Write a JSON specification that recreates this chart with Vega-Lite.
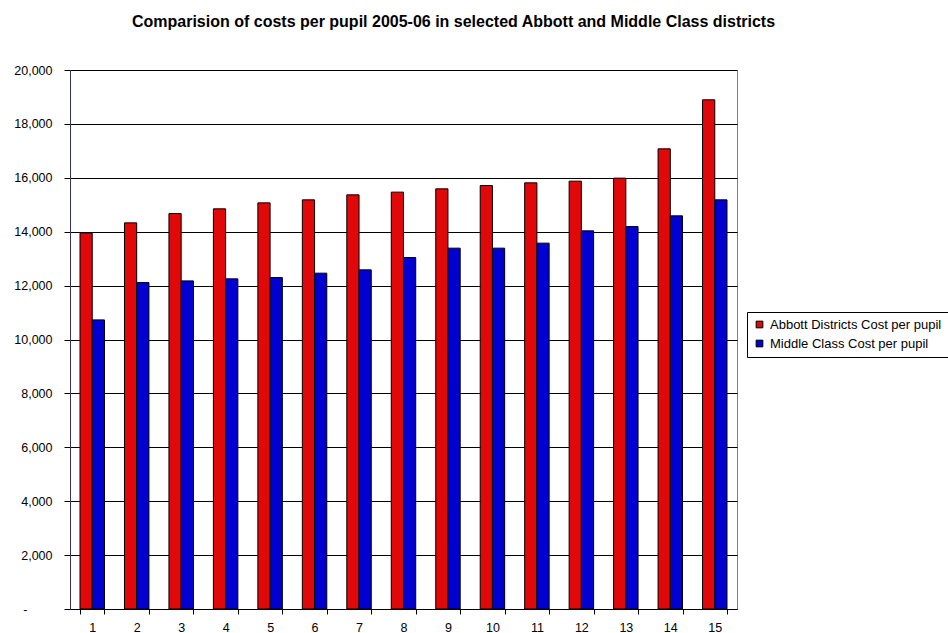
{
  "$schema": "https://vega.github.io/schema/vega-lite/v6.json",
  "autosize": "none",
  "padding": {"left": 70, "top": 70, "right": 211, "bottom": 24},
  "width": 667,
  "height": 539,
  "background": "white",
  "title": {
    "text": "Comparision of costs per pupil 2005-06 in selected Abbott and Middle Class districts",
    "font": "Liberation Sans",
    "fontSize": 16,
    "fontWeight": "bold",
    "color": "black",
    "anchor": "middle",
    "dx": 50,
    "offset": 34
  },
  "data": {
    "values": [
      {"district": 1, "series": "Abbott Districts Cost per pupil", "cost": 13946},
      {"district": 1, "series": "Middle Class Cost per pupil", "cost": 10728},
      {"district": 2, "series": "Abbott Districts Cost per pupil", "cost": 14328},
      {"district": 2, "series": "Middle Class Cost per pupil", "cost": 12112},
      {"district": 3, "series": "Abbott Districts Cost per pupil", "cost": 14673},
      {"district": 3, "series": "Middle Class Cost per pupil", "cost": 12175},
      {"district": 4, "series": "Abbott Districts Cost per pupil", "cost": 14848},
      {"district": 4, "series": "Middle Class Cost per pupil", "cost": 12250},
      {"district": 5, "series": "Abbott Districts Cost per pupil", "cost": 15070},
      {"district": 5, "series": "Middle Class Cost per pupil", "cost": 12298},
      {"district": 6, "series": "Abbott Districts Cost per pupil", "cost": 15182},
      {"district": 6, "series": "Middle Class Cost per pupil", "cost": 12461},
      {"district": 7, "series": "Abbott Districts Cost per pupil", "cost": 15367},
      {"district": 7, "series": "Middle Class Cost per pupil", "cost": 12584},
      {"district": 8, "series": "Abbott Districts Cost per pupil", "cost": 15468},
      {"district": 8, "series": "Middle Class Cost per pupil", "cost": 13040},
      {"district": 9, "series": "Abbott Districts Cost per pupil", "cost": 15590},
      {"district": 9, "series": "Middle Class Cost per pupil", "cost": 13389},
      {"district": 10, "series": "Abbott Districts Cost per pupil", "cost": 15713},
      {"district": 10, "series": "Middle Class Cost per pupil", "cost": 13389},
      {"district": 11, "series": "Abbott Districts Cost per pupil", "cost": 15813},
      {"district": 11, "series": "Middle Class Cost per pupil", "cost": 13575},
      {"district": 12, "series": "Abbott Districts Cost per pupil", "cost": 15876},
      {"district": 12, "series": "Middle Class Cost per pupil", "cost": 14031},
      {"district": 13, "series": "Abbott Districts Cost per pupil", "cost": 15987},
      {"district": 13, "series": "Middle Class Cost per pupil", "cost": 14190},
      {"district": 14, "series": "Abbott Districts Cost per pupil", "cost": 17075},
      {"district": 14, "series": "Middle Class Cost per pupil", "cost": 14588},
      {"district": 15, "series": "Abbott Districts Cost per pupil", "cost": 18894},
      {"district": 15, "series": "Middle Class Cost per pupil", "cost": 15182}
    ]
  },
  "mark": {"type": "bar", "stroke": "black", "strokeWidth": 1},
  "encoding": {
    "x": {
      "field": "district",
      "type": "ordinal",
      "scale": {"paddingInner": 0.45, "paddingOuter": 0.225},
      "axis": {
        "title": null,
        "labelAngle": 0,
        "tickBand": "extent",
        "grid": false,
        "domainColor": "black",
        "tickColor": "black",
        "tickSize": 5,
        "labelPadding": 7,
        "labelFont": "Liberation Sans",
        "labelFontSize": 12.5,
        "labelColor": "black"
      }
    },
    "xOffset": {"field": "series", "type": "nominal", "scale": {"paddingInner": 0, "paddingOuter": 0}},
    "y": {
      "field": "cost",
      "type": "quantitative",
      "scale": {"domain": [0, 20000], "nice": false},
      "axis": {
        "title": null,
        "values": [0, 2000, 4000, 6000, 8000, 10000, 12000, 14000, 16000, 18000, 20000],
        "labelExpr": "datum.value == 0 ? '-\u2003\u2003\u200b' : format(datum.value, ',')",
        "grid": true,
        "gridColor": "black",
        "gridWidth": 1,
        "domainColor": "#333366",
        "tickColor": "black",
        "tickSize": 6,
        "labelPadding": 12,
        "labelFont": "Liberation Sans",
        "labelFontSize": 12.5,
        "labelColor": "black"
      }
    },
    "color": {
      "field": "series",
      "type": "nominal",
      "scale": {
        "domain": ["Abbott Districts Cost per pupil", "Middle Class Cost per pupil"],
        "range": ["#E00808", "#0000D0"]
      },
      "legend": {
        "title": null,
        "orient": "none",
        "legendX": 677,
        "legendY": 242,
        "strokeColor": "black",
        "padding": 6,
        "rowPadding": 5,
        "symbolType": "square",
        "symbolSize": 45,
        "symbolStrokeColor": "black",
        "symbolStrokeWidth": 1,
        "labelFont": "Liberation Sans",
        "labelFontSize": 13,
        "labelColor": "black",
        "labelLimit": 300
      }
    }
  },
  "config": {
    "view": {"stroke": "#808080", "strokeWidth": 1}
  }
}
